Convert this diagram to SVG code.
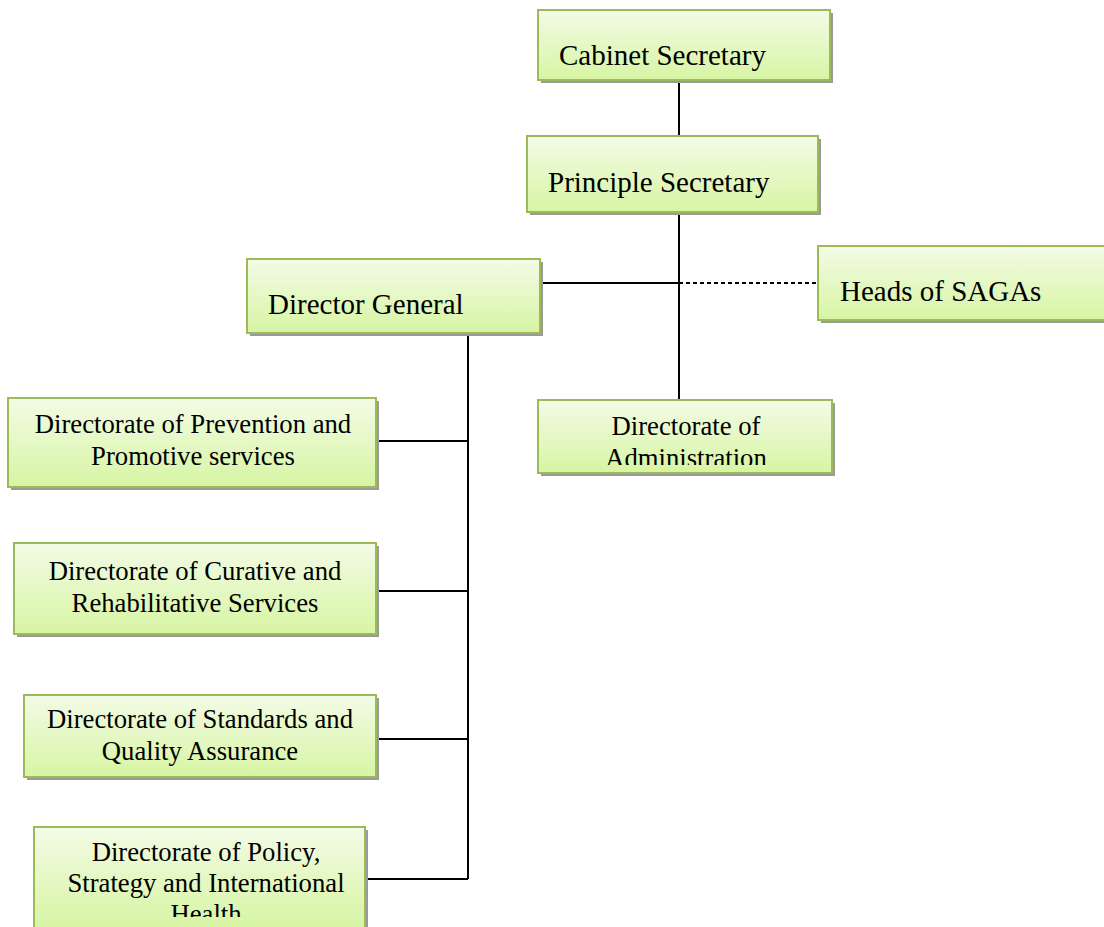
<svg xmlns="http://www.w3.org/2000/svg" width="1104" height="927" viewBox="0 0 1104 927">
  <style>
    .shadow { fill: #9a9a9a; }
    .box { fill: url(#boxFill); stroke: #9bbb59; stroke-width: 2; }
    .lbl { font-family: "Liberation Serif", "Times New Roman", serif; fill: #000; }
    .big { font-size: 29px; }
    .small { font-size: 26.7px; text-anchor: middle; }
    .link { stroke: #000; stroke-width: 2; fill: none; }
    .dash { stroke: #000; stroke-width: 2; stroke-dasharray: 4 3; fill: none; }
  </style>
  <defs>
    <linearGradient id="boxFill" x1="0" y1="0" x2="0" y2="1">
      <stop offset="0" stop-color="#f3fbe6"/>
      <stop offset="1" stop-color="#d7f5a3"/>
    </linearGradient>
    <clipPath id="clipAdmin"><rect x="538" y="400" width="294" height="65"/></clipPath>
    <clipPath id="clipPolicy"><rect x="34" y="827" width="331" height="90"/></clipPath>
  </defs>

  <rect width="1104" height="927" fill="#fff"/>

  <!-- connectors -->
  <g id="connectors">
    <line class="link" x1="679" y1="81" x2="679" y2="136"/>
    <line class="link" x1="679" y1="212" x2="679" y2="400"/>
    <line class="link" x1="540" y1="283" x2="679" y2="283"/>
    <line class="dash" x1="679" y1="283" x2="818" y2="283"/>
    <line class="link" x1="468" y1="334" x2="468" y2="879"/>
    <line class="link" x1="376" y1="441" x2="468" y2="441"/>
    <line class="link" x1="376" y1="591" x2="468" y2="591"/>
    <line class="link" x1="376" y1="739" x2="468" y2="739"/>
    <line class="link" x1="365" y1="879" x2="468" y2="879"/>
  </g>

  <g id="cabinet-secretary">
    <rect class="shadow" x="541" y="13" width="292" height="70"/>
    <rect class="box" x="538" y="10" width="292" height="70"/>
    <text class="lbl big" x="559" y="65">Cabinet Secretary</text>
  </g>

  <g id="principle-secretary">
    <rect class="shadow" x="530" y="139" width="291" height="76"/>
    <rect class="box" x="527" y="136" width="291" height="76"/>
    <text class="lbl big" x="548" y="192">Principle Secretary</text>
  </g>

  <g id="director-general">
    <rect class="shadow" x="250" y="262" width="293" height="74"/>
    <rect class="box" x="247" y="259" width="293" height="74"/>
    <text class="lbl big" x="268" y="314">Director General</text>
  </g>

  <g id="heads-of-sagas">
    <rect class="shadow" x="821" y="249" width="290" height="74"/>
    <rect class="box" x="818" y="246" width="290" height="74"/>
    <text class="lbl big" x="840" y="301">Heads of SAGAs</text>
  </g>

  <g id="directorate-administration">
    <rect class="shadow" x="541" y="403" width="294" height="73"/>
    <rect class="box" x="538" y="400" width="294" height="73"/>
    <g clip-path="url(#clipAdmin)">
      <text class="lbl small" x="686" y="435">Directorate of</text>
      <text class="lbl small" x="686" y="467">Administration</text>
    </g>
  </g>

  <g id="directorate-prevention">
    <rect class="shadow" x="11" y="401" width="368" height="89"/>
    <rect class="box" x="8" y="398" width="368" height="89"/>
    <text class="lbl small" x="193" y="433">Directorate of Prevention and</text>
    <text class="lbl small" x="193" y="465">Promotive services</text>
  </g>

  <g id="directorate-curative">
    <rect class="shadow" x="17" y="546" width="362" height="91"/>
    <rect class="box" x="14" y="543" width="362" height="91"/>
    <text class="lbl small" x="195" y="580">Directorate of Curative and</text>
    <text class="lbl small" x="195" y="612">Rehabilitative Services</text>
  </g>

  <g id="directorate-standards">
    <rect class="shadow" x="27" y="698" width="352" height="82"/>
    <rect class="box" x="24" y="695" width="352" height="82"/>
    <text class="lbl small" x="200" y="728">Directorate of Standards and</text>
    <text class="lbl small" x="200" y="760">Quality Assurance</text>
  </g>

  <g id="directorate-policy">
    <rect class="shadow" x="37" y="830" width="331" height="100"/>
    <rect class="box" x="34" y="827" width="331" height="102"/>
    <g clip-path="url(#clipPolicy)">
      <text class="lbl small" x="206" y="861">Directorate of Policy,</text>
      <text class="lbl small" x="206" y="892">Strategy and International</text>
      <text class="lbl small" x="206" y="923">Health</text>
    </g>
  </g>
</svg>
